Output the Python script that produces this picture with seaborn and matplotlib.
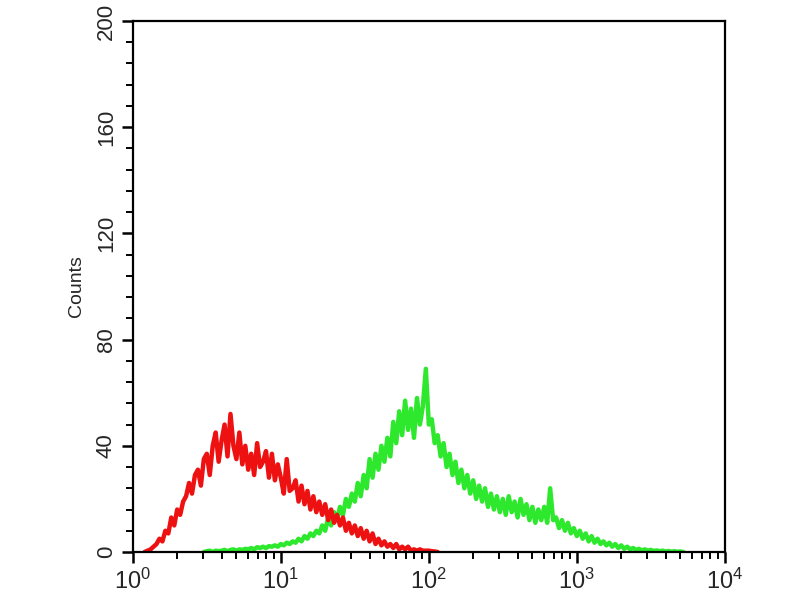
import numpy as np
import pandas as pd
import seaborn as sns
import matplotlib.pyplot as plt
from matplotlib.ticker import MultipleLocator, LogLocator

# channel grid: log10 of fluorescence, 0.02 decade per channel
step = 0.02
red_start = 0.08
red_counts = [0, 0.5, 1, 2, 3, 5, 4, 8, 7, 13, 10, 16, 14, 19, 21, 26, 22, 29, 31, 25,
              35, 37, 29, 40, 45, 34, 42, 48, 36, 52, 40, 35, 45, 33, 40, 31, 37, 29, 41, 32,
              34, 38, 28, 37, 27, 33, 28, 22, 35, 23, 24, 27, 19, 25, 18, 23, 16, 21, 15, 19,
              14, 18, 12, 16, 11, 14, 10, 13, 8, 11, 7, 10, 6, 9, 5, 8, 4, 7, 3, 5,
              2.5, 4, 2, 3, 1.5, 3, 1, 2, 1, 2, 0.5, 1, 0.5, 1, 0.5, 0.5, 0.5, 0.3, 0.2, 0]

green_start = 0.48
green_counts = [0, 0.3, 0.5, 0, 0.5, 0.3, 0.5, 0.8, 0.3, 0.8, 1, 0.5, 1, 0.8, 1.2, 1, 1.5, 1, 1.8, 1.5,
                2, 1.5, 2.2, 2, 2.5, 2, 3, 2.5, 3.5, 3, 4, 3.5, 5, 4, 6, 5, 7, 6, 8, 7,
                10, 8, 13, 10, 15, 12, 17, 14, 20, 17, 22, 19, 26, 21, 29, 24, 35, 28, 37, 31,
                40, 34, 43, 36, 49, 41, 53, 44, 57, 46, 54, 43, 58, 48, 55, 69, 48, 50, 41, 44,
                36, 41, 32, 37, 29, 34, 26, 31, 24, 29, 22, 27, 20, 25, 19, 24, 17, 22, 16, 21,
                15, 20, 14, 21, 15, 19, 13, 20, 14, 18, 12, 17, 11, 16, 12, 17, 11, 24, 12, 13,
                9, 12, 8, 11, 7, 9, 6, 8, 5, 7, 4, 6, 3.5, 5, 3, 4, 2.5, 3.5, 2, 3,
                1.5, 2.5, 1.2, 2, 1, 1.5, 0.8, 1.2, 0.6, 1, 0.5, 0.8, 0.4, 0.6, 0.3, 0.5, 0.2, 0.4, 0.1, 0.3,
                0.1, 0.2, 0]

y_ticks = [0, 40, 80, 120, 160, 200]

red = pd.DataFrame({"fl": 10 ** (red_start + step * np.arange(len(red_counts))),
                    "counts": red_counts})
green = pd.DataFrame({"fl": 10 ** (green_start + step * np.arange(len(green_counts))),
                      "counts": green_counts})

sns.set_style("ticks")
plt.rcParams["font.family"] = ["Liberation Sans", "DejaVu Sans"]

fig = plt.figure(figsize=(8, 6), dpi=100)
ax = fig.add_axes([0.166, 0.08, 0.74, 0.885])

sns.lineplot(data=green, x="fl", y="counts", color="#2ee82e", linewidth=3.2, ax=ax)
sns.lineplot(data=red, x="fl", y="counts", color="#ee1111", linewidth=3.2, ax=ax)

ax.set_xscale("log")
ax.set_xlim(1, 1e4)
ax.set_ylim(0, 200)
ax.set_yticks(y_ticks)
ax.set_yticklabels([str(t) for t in y_ticks], rotation=90, va="center", fontsize=16)
ax.yaxis.set_minor_locator(MultipleLocator(8))
ax.xaxis.set_major_locator(LogLocator(base=10, numticks=10))
ax.xaxis.set_minor_locator(LogLocator(base=10, subs=np.arange(2, 10), numticks=20))
ax.tick_params(axis="x", labelsize=17, pad=4)
ax.tick_params(which="major", direction="out", length=8, width=1.8, color="black")
ax.tick_params(which="minor", direction="out", length=5, width=1.4, color="black")
ax.tick_params(top=False, right=False, which="both")

for s in ax.spines.values():
    s.set_visible(True)
    s.set_linewidth(1.6)
    s.set_color("black")

ax.set_xlabel("")
ax.set_ylabel("Counts", fontsize=14, labelpad=8)

fig.savefig("out.png", dpi=100)
